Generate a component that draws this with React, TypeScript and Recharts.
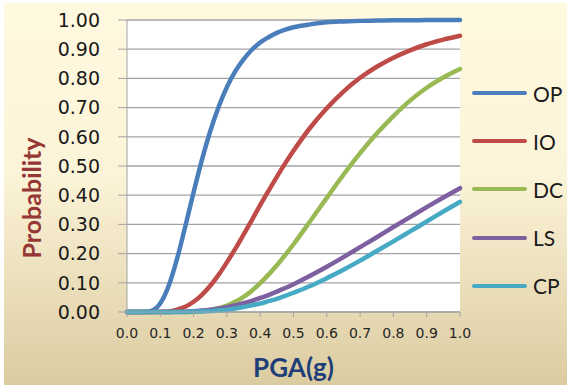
import React from 'react';
import {
  LineChart,
  Line,
  XAxis,
  YAxis,
  CartesianGrid,
  Label,
} from 'recharts';

// PGA (g) sample points
const pga = [
  0, 0.025, 0.05, 0.075, 0.1, 0.125, 0.15, 0.175, 0.2, 0.225, 0.25, 0.275, 0.3, 0.325, 0.35, 0.375,
  0.4, 0.425, 0.45, 0.475, 0.5, 0.55, 0.6, 0.65, 0.7, 0.75, 0.8, 0.85, 0.9, 0.95, 1.0,
];

// exceedance probability per damage state
const op = [
  0, 0, 0, 0.005, 0.03, 0.089, 0.181, 0.293, 0.41, 0.521, 0.619, 0.702, 0.77, 0.824, 0.865, 0.898,
  0.923, 0.941, 0.956, 0.967, 0.975, 0.985, 0.992, 0.995, 0.997, 0.998, 0.999, 0.999, 1, 1, 1,
];
const io = [
  0, 0, 0, 0, 0.001, 0.002, 0.008, 0.018, 0.035, 0.059, 0.09, 0.127, 0.17, 0.216, 0.265, 0.315,
  0.366, 0.415, 0.463, 0.509, 0.552, 0.631, 0.698, 0.755, 0.802, 0.84, 0.871, 0.896, 0.917, 0.933, 0.946,
];
const dc = [
  0, 0, 0, 0, 0, 0, 0, 0, 0.001, 0.003, 0.007, 0.013, 0.022, 0.035, 0.052, 0.073,
  0.099, 0.128, 0.16, 0.195, 0.232, 0.311, 0.391, 0.47, 0.544, 0.611, 0.671, 0.724, 0.768, 0.803, 0.832,
];
const ls = [
  0, 0, 0, 0, 0, 0, 0.001, 0.001, 0.003, 0.005, 0.008, 0.012, 0.016, 0.023, 0.03, 0.038,
  0.048, 0.058, 0.07, 0.082, 0.095, 0.124, 0.155, 0.188, 0.222, 0.256, 0.291, 0.325, 0.359, 0.392, 0.424,
];
const cp = [
  0, 0, 0, 0, 0, 0, 0, 0, 0.001, 0.002, 0.003, 0.006, 0.008, 0.012, 0.017, 0.023,
  0.029, 0.037, 0.045, 0.055, 0.066, 0.089, 0.116, 0.145, 0.176, 0.209, 0.242, 0.276, 0.31, 0.344, 0.377,
];

const xTicks = [0, 0.1, 0.2, 0.3, 0.4, 0.5, 0.6, 0.7, 0.8, 0.9, 1.0];
const yTicks = [0, 0.1, 0.2, 0.3, 0.4, 0.5, 0.6, 0.7, 0.8, 0.9, 1.0];

const series = [
  { key: 'OP', color: '#4a7ebb' },
  { key: 'IO', color: '#be4b48' },
  { key: 'DC', color: '#98b954' },
  { key: 'LS', color: '#7d60a0' },
  { key: 'CP', color: '#46aac5' },
];

const data = pga.map((x, i) => ({
  x,
  OP: op[i],
  IO: io[i],
  DC: dc[i],
  LS: ls[i],
  CP: cp[i],
}));

const gridColor = '#a3a3a3';

function LegendBox() {
  return (
    <div
      style={{
        position: 'absolute',
        left: 472,
        top: 69,
        fontFamily: 'Lato, sans-serif',
        fontSize: 21,
        color: '#1a1a1a',
      }}
    >
      {series.map((s) => (
        <div key={s.key} style={{ height: 48.2, display: 'flex', alignItems: 'center' }}>
          <span
            style={{
              display: 'inline-block',
              width: 55,
              height: 4,
              borderRadius: 2,
              background: s.color,
              marginRight: 6,
            }}
          />
          <span>{s.key}</span>
        </div>
      ))}
    </div>
  );
}

export default function App() {
  return (
    <div style={{ position: 'absolute', left: 0, top: 0, width: 571, height: 387, background: '#fff' }}>
      <div
        style={{
          position: 'absolute',
          left: 4,
          top: 3,
          width: 563,
          height: 382,
          background: 'linear-gradient(to bottom, #fff9e0 0%, #fcf4d8 45%, #dbcba0 100%)',
        }}
      />
      <div style={{ position: 'absolute', left: 0, top: 0 }}>
        <LineChart
          width={571}
          height={387}
          data={data}
          margin={{ top: 20, right: 111, bottom: 0, left: 27 }}
        >
          <CartesianGrid vertical={false} stroke={gridColor} strokeWidth={1.3} fill="#fff" />
          <XAxis
            dataKey="x"
            type="number"
            domain={[0, 1]}
            ticks={xTicks}
            tickFormatter={(v: number) => v.toFixed(1)}
            height={75}
            tickSize={5}
            tickMargin={11}
            stroke={gridColor}
            tick={{ fill: '#262626', fontSize: 14, fontFamily: 'DejaVu Sans' }}
          >
            <Label
              content={({ viewBox }: any) => (
                <text
                  x={viewBox.x + viewBox.width / 2}
                  y={viewBox.y + 65}
                  textAnchor="middle"
                  fill="#1f3f78"
                  fontFamily="Lato"
                  fontWeight="bold"
                  fontSize={26}
                >
                  PGA(g)
                </text>
              )}
            />
          </XAxis>
          <YAxis
            type="number"
            domain={[0, 1]}
            ticks={yTicks}
            tickFormatter={(v: number) => v.toFixed(2)}
            width={100}
            tickSize={9}
            tickMargin={18}
            stroke={gridColor}
            tick={{ fill: '#1a1a1a', fontSize: 19, fontFamily: 'DejaVu Sans' }}
          >
            <Label
              content={({ viewBox }: any) => {
                const cx = viewBox.x + 4;
                const cy = viewBox.y + viewBox.height / 2 + 32;
                return (
                  <text
                    x={cx}
                    y={cy}
                    transform={`rotate(-90, ${cx}, ${cy})`}
                    textAnchor="middle"
                    dominantBaseline="central"
                    fill="#953735"
                    fontFamily="Lato"
                    fontWeight="bold"
                    fontSize={25}
                  >
                    Probability
                  </text>
                );
              }}
            />
          </YAxis>
          {series.map((s) => (
            <Line
              key={s.key}
              type="monotone"
              dataKey={s.key}
              stroke={s.color}
              strokeWidth={4.5}
              strokeLinecap="round"
              dot={false}
              isAnimationActive={false}
            />
          ))}
        </LineChart>
      </div>
      <LegendBox />
    </div>
  );
}
